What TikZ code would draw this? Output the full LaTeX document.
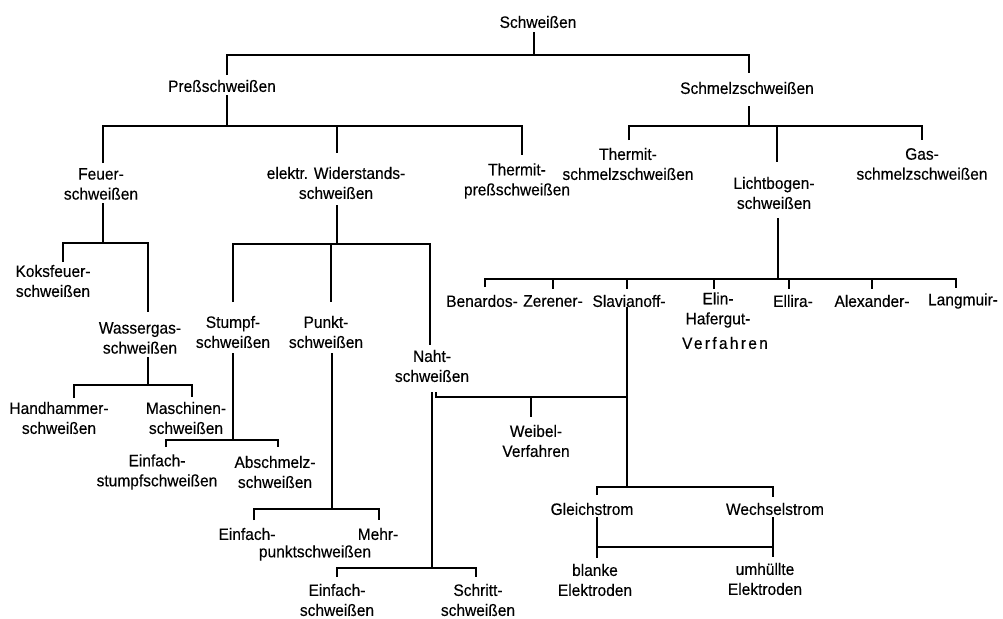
\documentclass[tikz,border=0pt]{standalone}
\usepackage{fontspec}
\setmainfont{Liberation Sans}[FakeStretch=0.94,FakeBold=0.3]
\begin{document}
\begin{tikzpicture}[x=1pt,y=-1pt,
  lbl/.style={font=\fontsize{16.5}{20}\selectfont, inner sep=0pt, align=center},
  ln/.style={line width=1.2pt, line cap=butt}]
\useasboundingbox (0,0) rectangle (1003,618);
% ---- nodes ----
\node[lbl] (schw) at (538,22) {Schweißen};
\node[lbl] (press) at (222,86) {Preßschweißen};
\node[lbl] (schmelz) at (747,88) {Schmelzschweißen};
\node[lbl] (feuer) at (101,184) {Feuer-\\schweißen};
\node[lbl] (wider) at (336,183) {elektr. Widerstands-\\schweißen};
\node[lbl] (thpress) at (517,181) {Thermit-\\preßschweißen};
\node[lbl] (thschmelz) at (628,164) {Thermit-\\schmelzschweißen};
\node[lbl] (licht) at (774,193) {Lichtbogen-\\schweißen};
\node[lbl] (gas) at (922,164) {Gas-\\schmelzschweißen};
\node[lbl] (koks) at (53,281) {Koksfeuer-\\schweißen};
\node[lbl] (wasser) at (140,338) {Wassergas-\\schweißen};
\node[lbl] (stumpf) at (233,332) {Stumpf-\\schweißen};
\node[lbl] (punkt) at (326,332) {Punkt-\\schweißen};
\node[lbl] (naht) at (432,366) {Naht-\\schweißen};
\node[lbl] (hand) at (59,418) {Handhammer-\\schweißen};
\node[lbl] (masch) at (186,418) {Maschinen-\\schweißen};
\node[lbl] (einst) at (157,472) {Einfach-\\stumpfschweißen};
\node[lbl] (absch) at (275,472) {Abschmelz-\\schweißen};
\node[lbl] (einpunkt) at (247,534) {Einfach-};
\node[lbl] (mehr) at (378,534) {Mehr-};
\node[lbl] (punktschw) at (315,553) {punktschweißen};
\node[lbl] (einnaht) at (337,600) {Einfach-\\schweißen};
\node[lbl] (schritt) at (478,600) {Schritt-\\schweißen};
\node[lbl] (benardos) at (482,301) {Benardos-};
\node[lbl] (zerener) at (553,301) {Zerener-};
\node[lbl] (slav) at (629,301) {Slavianoff-};
\node[lbl] (elin) at (718,310) {Elin-\\Hafergut-};
\node[lbl] (verf) at (725,343) {\addfontfeature{LetterSpace=14}Verfahren};
\node[lbl] (ellira) at (793,301) {Ellira-};
\node[lbl] (alex) at (872,301) {Alexander-};
\node[lbl] (lang) at (963,301) {Langmuir-};
\node[lbl] (weibel) at (536,441) {Weibel-\\Verfahren};
\node[lbl] (gleich) at (592,509) {Gleichstrom};
\node[lbl] (wechsel) at (775,509) {Wechselstrom};
\node[lbl] (blanke) at (595,580) {blanke\\Elektroden};
\node[lbl] (umh) at (765,579) {umhüllte\\Elektroden};
% ---- connectors ----
\draw[ln] (schw.south -| 534,0) ++(0,4) -- (534,55);
\draw[ln] (227,75) |- (749,55) -- (749,73);
\draw[ln] (227,95) -- (227,126);
\draw[ln] (103,163) |- (522,126) -- (522,155);
\draw[ln] (337,126) -- (337,153);
\draw[ln] (749,106) -- (749,126);
\draw[ln] (629,140) |- (922,126) -- (922,140);
\draw[ln] (777,126) -- (777,162);
\draw[ln] (778,218) -- (778,279);
\draw[ln] (485,287) |- (956,279) -- (956,288);
\foreach \xx in {553,627,714,789,872} \draw[ln] (\xx,279) -- (\xx,289);
\draw[ln] (627,307) -- (627,487);
\draw[ln] (436,392) |- (627,397);
\draw[ln] (531,397) -- (531,417);
\draw[ln] (597,495) |- (773,487) -- (773,497);
\draw[ln] (597,517) -- (597,558);
\draw[ln] (597,547) -- (773,547);
\draw[ln] (773,517) -- (773,557);
\draw[ln] (103,203) -- (103,243);
\draw[ln] (63,262) |- (148,243) -- (148,312);
\draw[ln] (148,357) -- (148,385);
\draw[ln] (74,398) |- (192,385) -- (192,397);
\draw[ln] (337,205) -- (337,244);
\draw[ln] (233,302) |- (430,244) -- (430,345);
\draw[ln] (331,244) -- (331,302);
\draw[ln] (233,353) -- (233,440);
\draw[ln] (166,447) |- (278,440) -- (278,447);
\draw[ln] (332,353) -- (332,509);
\draw[ln] (254,520) |- (379,509) -- (379,520);
\draw[ln] (432,392) -- (432,568);
\draw[ln] (337,577) |- (476,568) -- (476,577);
\end{tikzpicture}
\end{document}
